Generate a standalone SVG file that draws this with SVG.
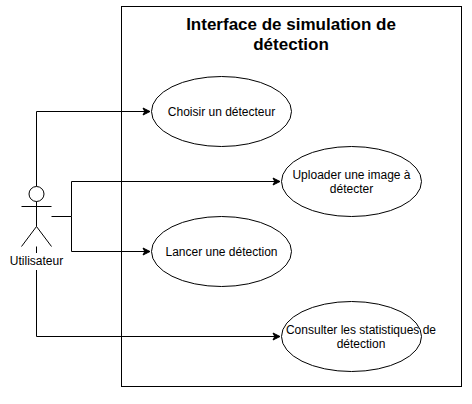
<svg xmlns="http://www.w3.org/2000/svg" width="472" height="404" viewBox="0 0 472 404">
<style>
.s{fill:none;stroke:#000;stroke-width:1}
.n{fill:#fff;stroke:#000;stroke-width:1}
text{font-family:"Liberation Sans",Arial,sans-serif;font-size:12px;fill:#000;text-anchor:middle}
.t{font-size:17px;font-weight:bold}
</style>
<defs>
<marker id="a" markerUnits="userSpaceOnUse" markerWidth="9" markerHeight="10" refX="7" refY="4.5" orient="auto" overflow="visible">
<path d="M0 1 L7 4.5 L0 8 L1.75 4.5 Z" fill="#000" stroke="#000"/>
</marker>
</defs>
<rect width="472" height="404" fill="#fff"/>
<g id="system">
<rect class="n" x="121.5" y="6.5" width="340" height="380"/>
<text class="t" x="291" y="30">Interface de simulation de</text>
<text class="t" x="291" y="50">détection</text>
</g>
<g id="connectors">
<path class="s" d="M36.5 186.5V111.5H150" marker-end="url(#a)"/>
<path class="s" d="M51.5 216.5H71.5V181.5H280" marker-end="url(#a)"/>
<path class="s" d="M71.5 216.5V251.5H150" marker-end="url(#a)"/>
<path class="s" d="M36.5 246.5V336.5H280" marker-end="url(#a)"/>
</g>
<g id="uc1">
<ellipse class="n" cx="221.5" cy="111.5" rx="70" ry="35"/>
<text x="221.5" y="116">Choisir un détecteur</text>
</g>
<g id="uc2">
<ellipse class="n" cx="351.5" cy="181.5" rx="70" ry="35"/>
<text x="351.5" y="179">Uploader une image à</text>
<text x="351.5" y="193">détecter</text>
</g>
<g id="uc3">
<ellipse class="n" cx="221.5" cy="251.5" rx="70" ry="35"/>
<text x="221.5" y="256">Lancer une détection</text>
</g>
<g id="uc4">
<ellipse class="n" cx="351.5" cy="336.5" rx="70" ry="35"/>
<text x="361" y="334">Consulter les statistiques de</text>
<text x="361" y="348">détection</text>
</g>
<g id="actor">
<circle class="n" cx="36.5" cy="194" r="7.5"/>
<path class="s" d="M36.5 201.5V226.5M21.5 206.5H51.5M21.5 246.5L36.5 226.5L51.5 246.5"/>
<rect x="11" y="253" width="52" height="17" fill="#fff"/>
<text x="36.5" y="265">Utilisateur</text>
</g>
</svg>
